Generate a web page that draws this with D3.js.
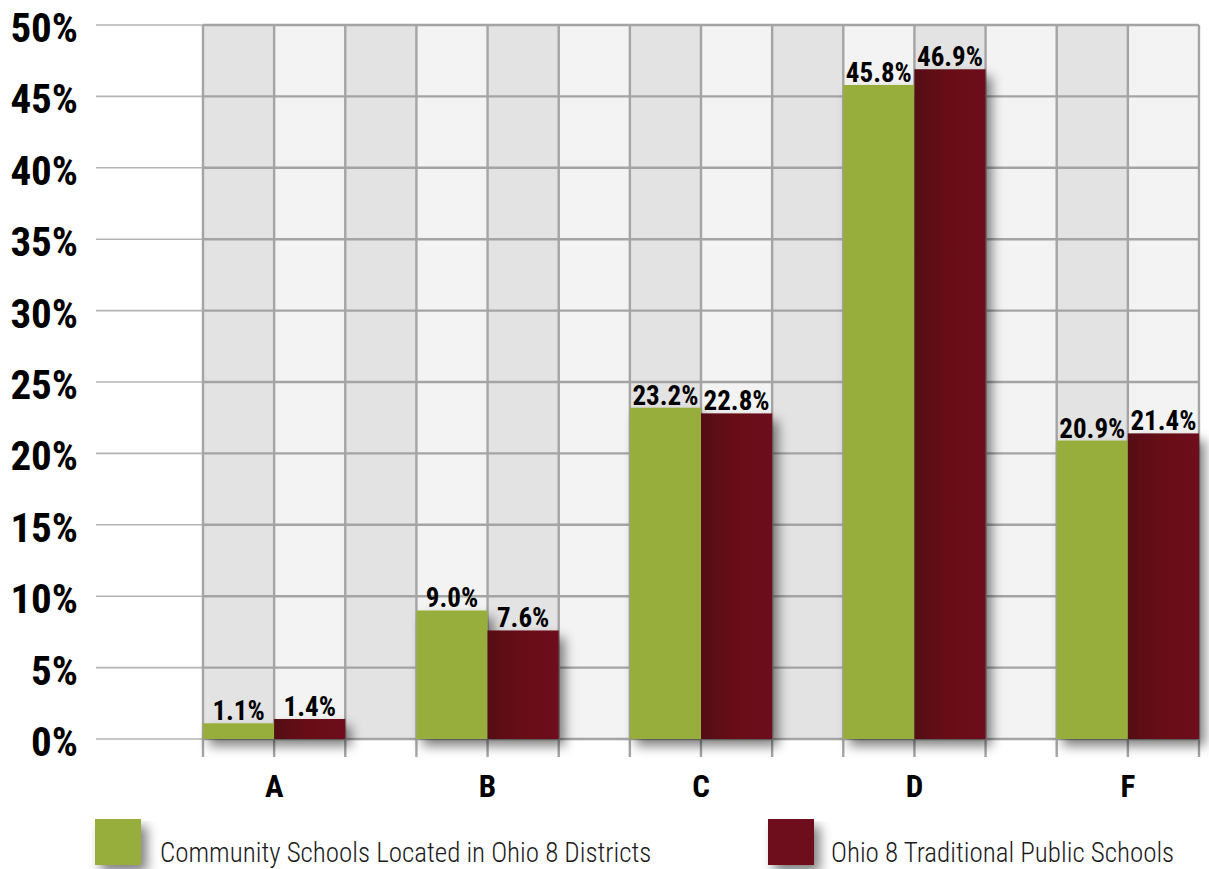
<!DOCTYPE html>
<html>
<head>
<meta charset="utf-8">
<script src="https://cdn.jsdelivr.net/npm/d3@7"></script>
<style>
  html, body { margin: 0; padding: 0; background: #ffffff; }
  svg { display: block; }
  .cond { font-family: "Roboto Condensed", "Liberation Sans Narrow", sans-serif; }
</style>
</head>
<body>
<svg id="chart" width="1209" height="869"></svg>
<script>
// Grade distribution, Ohio 8 districts
const grades = ["A", "B", "C", "D", "F"];
const seriesNames = ["Community Schools Located in Ohio 8 Districts", "Ohio 8 Traditional Public Schools"];
const communityValues = [1.1, 9.0, 23.2, 45.8, 20.9];
const traditionalValues = [1.4, 7.6, 22.8, 46.9, 21.4];
const yTicks = [0, 5, 10, 15, 20, 25, 30, 35, 40, 45, 50];

const plot = { left: 203, right: 1199, top: 25, bottom: 739 };
const nCols = 14;

const svg = d3.select("#chart");
const defs = svg.append("defs");

// soft drop shadow for bars and legend swatches
const shadow = defs.append("filter").attr("id", "barShadow")
  .attr("x", "-20%").attr("y", "-10%").attr("width", "160%").attr("height", "130%");
shadow.append("feGaussianBlur").attr("in", "SourceAlpha").attr("stdDeviation", 6).attr("result", "b");
shadow.append("feOffset").attr("in", "b").attr("dx", 6).attr("dy", 7).attr("result", "o");
shadow.append("feComponentTransfer").attr("in", "o").attr("result", "s")
  .append("feFuncA").attr("type", "linear").attr("slope", 0.5);
const merge = shadow.append("feMerge");
merge.append("feMergeNode").attr("in", "s");
merge.append("feMergeNode").attr("in", "SourceGraphic");

// maroon bars darken toward their left edge
const grad = defs.append("linearGradient").attr("id", "maroonGrad")
  .attr("x1", 0).attr("x2", 1).attr("y1", 0).attr("y2", 0);
grad.append("stop").attr("offset", 0).attr("stop-color", "#540711");
grad.append("stop").attr("offset", 0.45).attr("stop-color", "#670b18");
grad.append("stop").attr("offset", 1).attr("stop-color", "#6e0e1b");

const y = d3.scaleLinear().domain([0, 50]).range([plot.bottom, plot.top]);
const x = d3.scaleBand().domain(grades).range([plot.left, plot.right])
  .paddingInner(1 / 3).paddingOuter(0).align(0);
const xSub = d3.scaleBand().domain([0, 1]).range([0, x.bandwidth()]);
const col = d3.scaleLinear().domain([0, nCols]).range([plot.left, plot.right]);

// checkered column background
const cells = [];
for (let c = 0; c < nCols; c++) {
  for (let r = 0; r < yTicks.length - 1; r++) {
    cells.push({ c, lo: yTicks[r], hi: yTicks[r + 1] });
  }
}
svg.append("g").selectAll("rect").data(cells).join("rect")
  .attr("x", d => col(d.c))
  .attr("y", d => y(d.hi))
  .attr("width", col(1) - col(0))
  .attr("height", d => y(d.lo) - y(d.hi))
  .attr("fill", d => d.c % 2 === 0 ? "#e3e3e3" : "#f3f3f3");

// gridlines extending left toward the labels
svg.append("g").selectAll("line").data(yTicks).join("line")
  .attr("x1", 96).attr("x2", plot.left)
  .attr("y1", d => y(d)).attr("y2", d => y(d))
  .attr("stroke", "#b4b4b4").attr("stroke-width", 1.6);

// grid inside plot
svg.append("g").selectAll("line").data(yTicks).join("line")
  .attr("x1", plot.left).attr("x2", plot.right)
  .attr("y1", d => y(d)).attr("y2", d => y(d))
  .attr("stroke", "#a4a4a4").attr("stroke-width", 2.4);
svg.append("g").selectAll("line").data(d3.range(nCols + 1)).join("line")
  .attr("x1", d => col(d)).attr("x2", d => col(d))
  .attr("y1", plot.top).attr("y2", plot.bottom + 18)
  .attr("stroke", "#a4a4a4").attr("stroke-width", 2.4);

// y axis labels
svg.append("g").attr("class", "cond").selectAll("text").data(yTicks).join("text")
  .attr("x", 78).attr("y", d => y(d) + 17)
  .attr("text-anchor", "end")
  .attr("font-size", 41).attr("font-weight", "bold").attr("fill", "#000")
  .text(d => d + "%");

// bars
const rows = [];
grades.forEach((g, i) => {
  rows.push({ g, s: 0, v: communityValues[i] });
  rows.push({ g, s: 1, v: traditionalValues[i] });
});
svg.append("g").attr("filter", "url(#barShadow)").selectAll("rect").data(rows).join("rect")
  .attr("x", d => x(d.g) + xSub(d.s))
  .attr("y", d => y(d.v))
  .attr("width", xSub.bandwidth())
  .attr("height", d => y(0) - y(d.v))
  .attr("fill", d => d.s === 0 ? "#97ae3d" : "url(#maroonGrad)");

// value labels
svg.append("g").attr("class", "cond").selectAll("text").data(rows).join("text")
  .attr("x", d => x(d.g) + xSub(d.s) + xSub.bandwidth() / 2)
  .attr("y", d => y(d.v) - 3)
  .attr("text-anchor", "middle")
  .attr("font-size", 27).attr("font-weight", "bold").attr("fill", "#000")
  .text(d => d.v.toFixed(1) + "%");

// category labels
svg.append("g").attr("class", "cond").selectAll("text").data(grades).join("text")
  .attr("x", d => x(d) + x.bandwidth() / 2)
  .attr("y", 797)
  .attr("text-anchor", "middle")
  .attr("font-size", 31).attr("font-weight", "bold").attr("fill", "#000")
  .text(d => d);

// legend
const legend = [
  { name: seriesNames[0], color: "#97ae3d", x: 95, tx: 160 },
  { name: seriesNames[1], color: "#6e0e1b", x: 768, tx: 831 }
];
const lg = svg.append("g");
lg.append("g").attr("filter", "url(#barShadow)").selectAll("rect").data(legend).join("rect")
  .attr("x", d => d.x).attr("y", 819).attr("width", 46).attr("height", 46)
  .attr("fill", d => d.color);
lg.append("g").attr("class", "cond").selectAll("text").data(legend).join("text")
  .attr("x", d => d.tx).attr("y", 862)
  .attr("font-size", 27).attr("font-weight", 300).attr("fill", "#1a1a1a")
  .text(d => d.name);
</script>
</body>
</html>
